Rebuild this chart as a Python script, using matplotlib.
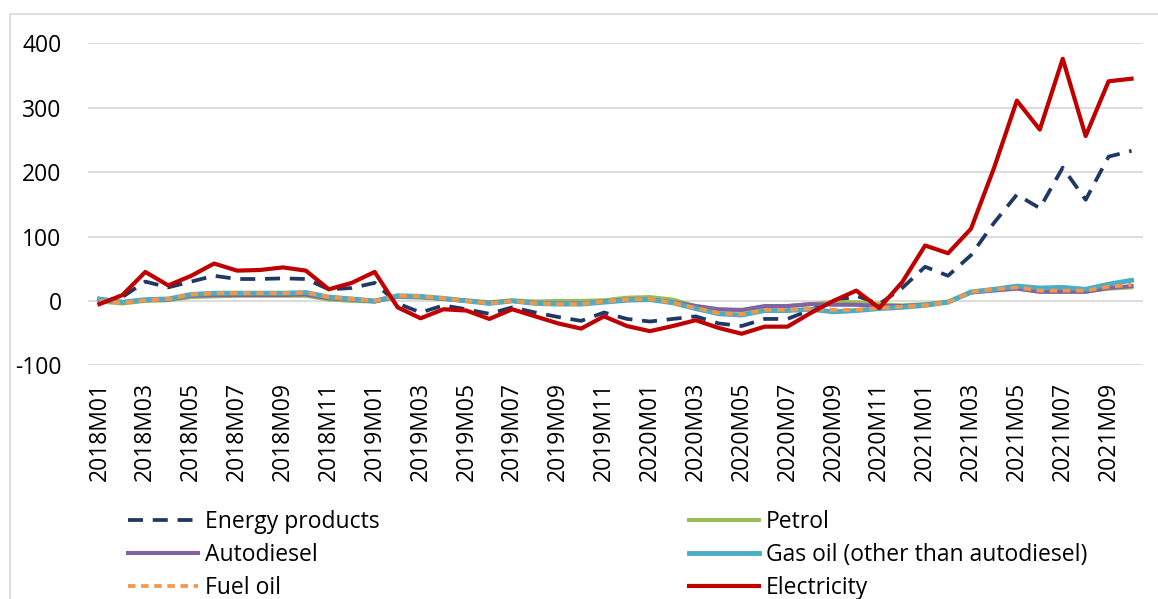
import matplotlib
matplotlib.use("Agg")
import matplotlib.pyplot as plt
from matplotlib.patches import Rectangle

months = [f"{y}M{m:02d}" for y in range(2018, 2022) for m in range(1, 13)][:46]

energy_products = [-2, 6, 30, 21, 30, 39, 34, 34, 35, 34, 18, 20, 28, -4, -18, -7,
                   -13, -20, -10, -18, -25, -31, -18, -28, -32, -28, -24, -35, -39, -28,
                   -28, -14, -1, 8, -5, 20, 53, 39, 71, 121, 165, 144, 207, 157, 224, 233]
petrol = [-1, -4, 0, 1, 6, 7, 8, 8, 8, 8, 2, 0, -1, 6, 5, 3,
          1, -2, 1, -1, 0, 0, 1, 5, 6, 2, -8, -13, -15, -9,
          -8, -5, -2, -2, -5, -7, -5, -1, 13, 17, 20, 15, 16, 15, 19, 21]
autodiesel = [1, -2, 1, 2, 8, 9, 9, 9, 9, 10, 4, 2, -1, 7, 6, 3,
              0, -3, 0, -3, -4, -4, -1, 2, 2, -2, -8, -13, -14, -8,
              -8, -5, -6, -6, -8, -8, -6, -2, 13, 16, 19, 14, 14, 14, 20, 23]
gas_oil = [3, -2, 2, 3, 10, 12, 12, 12, 12, 13, 6, 3, 0, 8, 7, 4,
           0, -4, 0, -4, -5, -5, -2, 1, 2, -3, -12, -20, -22, -15,
           -15, -13, -17, -15, -12, -10, -7, -2, 14, 18, 23, 20, 21, 18, 26, 32]
fuel_oil = [0, -3, 1, 3, 10, 12, 12, 12, 12, 13, 6, 3, 0, 8, 7, 4,
            0, -4, 0, -4, -5, -5, -1, 2, 3, -3, -11, -19, -21, -14,
            -14, -12, -14, -14, -11, -9, -7, -2, 14, 18, 21, 16, 16, 16, 22, 25]
electricity = [-5, 9, 45, 24, 39, 58, 47, 48, 52, 47, 18, 28, 45, -10, -27, -13,
               -15, -28, -13, -24, -35, -43, -24, -39, -47, -39, -30, -42, -51, -40,
               -40, -19, 0, 16, -11, 29, 86, 74, 112, 206, 311, 266, 376, 256, 341, 345]

plt.rcParams['font.family'] = ['Open Sans', 'DejaVu Sans']
plt.rcParams['axes.unicode_minus'] = False

fig = plt.figure(figsize=(11.58, 5.99), dpi=100)
# light frame round the chart area
fig.patches.append(Rectangle((10 / 1158, -0.1), 1.2, 1 - 14 / 599 + 0.1,
                             transform=fig.transFigure, fill=False,
                             edgecolor='#D9D9D9', lw=1.2))
ax = fig.add_axes([88 / 1158, 1 - 365.3 / 599, (1143 - 88) / 1158, 322 / 599])

x = list(range(len(months)))
l_energy, = ax.plot(x, energy_products, color='#1F3864', lw=2.7,
                    linestyle=(0, (4, 2.6)), label='Energy products')
l_petrol, = ax.plot(x, petrol, color='#9BBB59', lw=2.9, label='Petrol')
l_auto, = ax.plot(x, autodiesel, color='#8064A2', lw=2.9, label='Autodiesel')
l_gas, = ax.plot(x, gas_oil, color='#4BACC6', lw=3.5,
                 label='Gas oil (other than autodiesel)')
l_fuel, = ax.plot(x, fuel_oil, color='#F79646', lw=2.7,
                  linestyle=(0, (2.0, 1.5)), label='Fuel oil')
l_elec, = ax.plot(x, electricity, color='#C00000', lw=3.0, label='Electricity')

ax.set_xlim(-0.5, len(months) - 0.5)
ax.set_ylim(-100, 400)
ax.set_yticks(range(-100, 401, 100))
ax.set_xticks(x[::2])
ax.set_xticklabels(months[::2], rotation=90)
ax.tick_params(axis='both', length=0, labelsize=16.5, colors='black')
ax.tick_params(axis='y', pad=19)
ax.tick_params(axis='x', pad=12)
ax.grid(axis='y', color='#D9D9D9', lw=1.3)
ax.set_axisbelow(True)
for s in ax.spines.values():
    s.set_visible(False)

handles = [l_energy, l_auto, l_fuel, l_petrol, l_gas, l_elec]
fig.legend(handles, [h.get_label() for h in handles], ncol=2,
           loc='upper left', bbox_to_anchor=(128 / 1158, 1 - 510 / 599),
           frameon=False, fontsize=16.5, handlelength=3.05, handletextpad=0.3,
           labelspacing=0.4, columnspacing=13.5, borderpad=0, borderaxespad=0)

fig.savefig('out.png', dpi=100)
